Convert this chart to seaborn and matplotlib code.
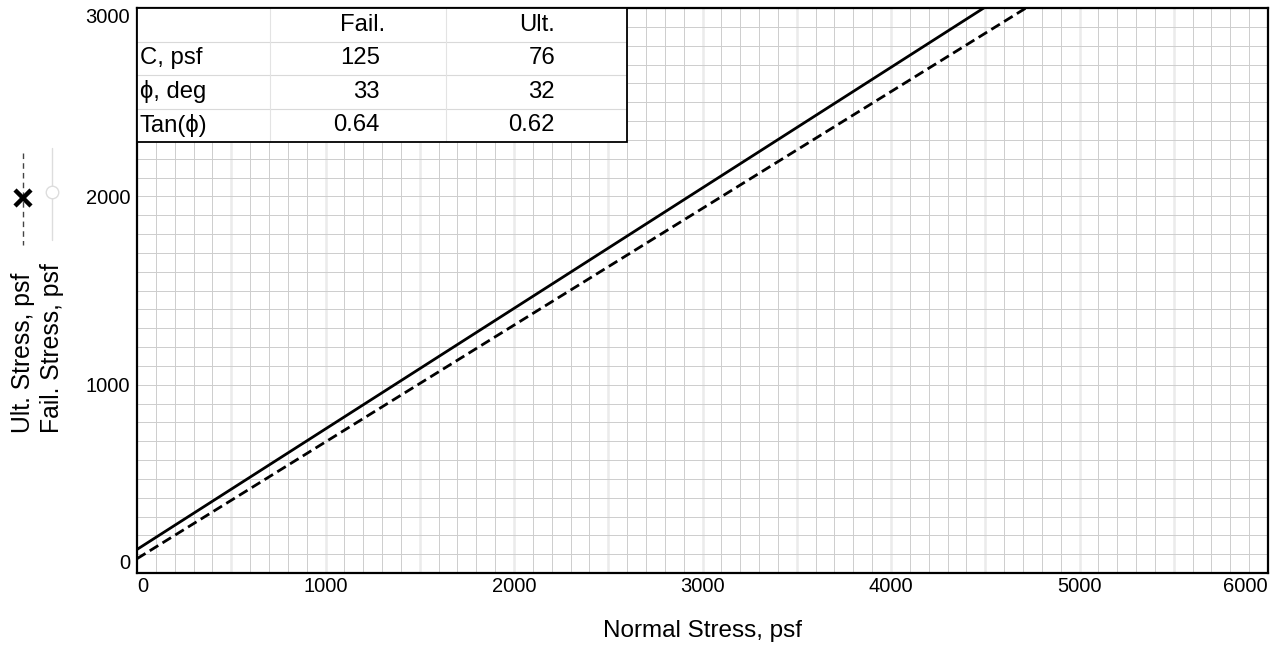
import numpy as np
import matplotlib
matplotlib.use("Agg")
import matplotlib.pyplot as plt
from matplotlib.lines import Line2D
from matplotlib.patches import Rectangle
from matplotlib.ticker import FixedLocator
import seaborn as sns
import pandas as pd

# ---------------- data ----------------
normal_stress = [0, 6000]
fail_stress = [125, 3965]
ult_stress = [76, 3796]

table_rows = ["C, psf", "ϕ, deg", "Tan(ϕ)"]
table_cols = ["Fail.", "Ult."]
fail_params = ["125", "33", "0.64"]
ult_params = ["76", "32", "0.62"]

x_ticks = [0, 1000, 2000, 3000, 4000, 5000, 6000]
y_ticks = [0, 1000, 2000, 3000]

# ---------------- style ----------------
sns.set_theme(style="white")
plt.rcParams["font.family"] = ["Liberation Sans", "DejaVu Sans"]
plt.rcParams["text.color"] = "black"

W, H = 1277, 646
fig = plt.figure(figsize=(W / 100, H / 100), dpi=100)
AX_L, AX_R, AX_T, AX_B = 137, 1268, 8, 573
ax = fig.add_axes([AX_L / W, 1 - AX_B / H, (AX_R - AX_L) / W, (AX_B - AX_T) / H])

df = pd.DataFrame({"x": normal_stress, "fail": fail_stress, "ult": ult_stress})
sns.lineplot(data=df, x="x", y="fail", ax=ax, color="black", lw=2.0, zorder=3)
sns.lineplot(data=df, x="x", y="ult", ax=ax, color="black", lw=2.0,
             linestyle=(0, (3.6, 1.8)), zorder=3)

ax.set_xlim(0, 6000)
ax.set_ylim(0, 3000)

# grid: thin grey every 100; on x, lines at multiples of 500 are light and wider
grid_col = "#cdcdcd"
for v in np.arange(100, 6000, 100):
    if v % 500 == 0:
        ax.axvline(v, color="#ebebeb", lw=1.8, zorder=0.3)
    else:
        ax.axvline(v, color=grid_col, lw=0.7, zorder=0.4)
for v in np.arange(100, 3000, 100):
    ax.axhline(v, color=grid_col, lw=0.7, zorder=0.4)

ax.xaxis.set_major_locator(FixedLocator(x_ticks))
ax.yaxis.set_major_locator(FixedLocator(y_ticks))
ax.grid(False)

ax.set_xticklabels([str(t) for t in x_ticks])
ax.set_yticklabels([str(t) for t in y_ticks])
ax.tick_params(axis="both", which="both", length=0, labelsize=14.5, colors="black")
ax.tick_params(axis="x", pad=3)
ax.tick_params(axis="y", pad=5)
xt = ax.xaxis.get_major_ticks()
xt[0].label1.set_horizontalalignment("left")
xt[-1].label1.set_horizontalalignment("right")
yt = ax.yaxis.get_major_ticks()
yt[0].label1.set_verticalalignment("bottom")
yt[-1].label1.set_verticalalignment("top")

for s in ax.spines.values():
    s.set_color("black")
    s.set_linewidth(1.6)
    s.set_zorder(5)

ax.set_xlabel("")
ax.set_ylabel("")
fig.text((AX_L + AX_R) / 2 / W, 1 - 631 / H, "Normal Stress, psf",
         ha="center", va="center", fontsize=17.5)

# ---------------- left legend / y labels ----------------
def fx(px):
    return px / W

def fy(py):
    return 1 - py / H

fig.text(fx(23), fy(433), "Ult. Stress, psf", rotation=90, ha="center",
         va="bottom", fontsize=17.8)
fig.text(fx(52), fy(433), "Fail. Stress, psf", rotation=90, ha="center",
         va="bottom", fontsize=17.8)
fig.add_artist(Line2D([fx(23), fx(23)], [fy(153), fy(245)], color="#444444",
                      lw=1.0, linestyle=(0, (4, 3))))
fig.add_artist(Line2D([fx(23)], [fy(198)], marker="x", markersize=11,
                      markeredgewidth=3.2, color="black", linestyle="none"))
fig.add_artist(Line2D([fx(52), fx(52)], [fy(148), fy(240)], color="#dddddd",
                      lw=1.0))
fig.add_artist(Line2D([fx(52)], [fy(192)], marker="o", markersize=9,
                      markerfacecolor="white", markeredgecolor="#dddddd",
                      markeredgewidth=1.0, linestyle="none"))

# ---------------- parameter table ----------------
AW, AH = AX_R - AX_L, AX_B - AX_T

def ax_x(px):
    return (px - AX_L) / AW

def ax_y(py):
    return (AX_B - py) / AH

T_L, T_R, T_T, T_B = 137, 627, 8, 142
col_edges = [137, 270, 446, 627]
row_edges = np.linspace(T_T, T_B, 5)

ax.add_patch(Rectangle((ax_x(T_L), ax_y(T_B)), ax_x(T_R) - ax_x(T_L),
                       ax_y(T_T) - ax_y(T_B), transform=ax.transAxes,
                       facecolor="white", edgecolor="none", zorder=6))
for r in row_edges[1:-1]:
    ax.add_artist(Line2D([ax_x(T_L), ax_x(T_R)], [ax_y(r), ax_y(r)],
                         transform=ax.transAxes, color="#d9d9d9", lw=0.8, zorder=7))
for c in col_edges[1:-1]:
    ax.add_artist(Line2D([ax_x(c), ax_x(c)], [ax_y(T_T), ax_y(T_B)],
                         transform=ax.transAxes, color="#e3e3e3", lw=0.8, zorder=7))
ax.add_patch(Rectangle((ax_x(T_L), ax_y(T_B)), ax_x(T_R) - ax_x(T_L),
                       ax_y(T_T) - ax_y(T_B), transform=ax.transAxes,
                       facecolor="none", edgecolor="black", lw=1.3, zorder=8,
                       clip_on=False))

row_centers = (row_edges[:-1] + row_edges[1:]) / 2
TFS = 17.2
ax.text(ax_x(385), ax_y(row_centers[0]), table_cols[0], ha="right", va="center",
        fontsize=TFS, transform=ax.transAxes, zorder=9)
ax.text(ax_x(555), ax_y(row_centers[0]), table_cols[1], ha="right", va="center",
        fontsize=TFS, transform=ax.transAxes, zorder=9)
for i, lab in enumerate(table_rows):
    yc = ax_y(row_centers[i + 1])
    ax.text(ax_x(140), yc, lab, ha="left", va="center", fontsize=TFS,
            transform=ax.transAxes, zorder=9)
    ax.text(ax_x(380), yc, fail_params[i], ha="right", va="center", fontsize=TFS,
            transform=ax.transAxes, zorder=9)
    ax.text(ax_x(555), yc, ult_params[i], ha="right", va="center", fontsize=TFS,
            transform=ax.transAxes, zorder=9)

fig.savefig("out.png", dpi=100, facecolor="white")
